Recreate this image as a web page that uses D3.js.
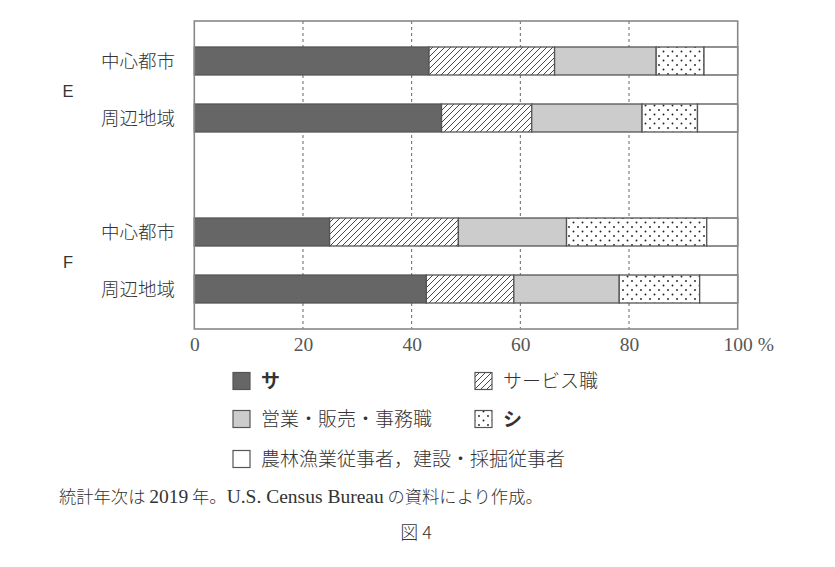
<!DOCTYPE html>
<html><head><meta charset="utf-8">
<script src="https://cdn.jsdelivr.net/npm/d3@7"></script>
<style>
body{margin:0;background:#fff;}
svg{display:block;}
</style></head>
<body>
<svg id="chart" width="835" height="567"></svg>
<script>
// ---- data ----
const groups = ["E", "E", "F", "F"];
const categories = ["中心都市", "周辺地域", "中心都市", "周辺地域"];
const seriesNames = ["サ", "サービス職", "営業・販売・事務職", "シ", "農林漁業従事者，建設・採掘従事者"];
const seriesSa = [43.2, 45.5, 24.9, 42.7];
const seriesService = [23.1, 16.6, 23.7, 16.1];
const seriesSales = [18.7, 20.3, 19.9, 19.4];
const seriesShi = [8.8, 10.2, 25.8, 14.8];
const seriesAgri = [6.2, 7.4, 5.7, 7.0];
const xTicks = [0, 20, 40, 60, 80, 100];
const footnote = "統計年次は 2019 年。U.S. Census Bureau の資料により作成。";
const figLabel = "図 4";

const svg = d3.select("#chart");
const defs = svg.append("defs");

// patterns
const hatch = defs.append("pattern").attr("id", "hatch")
  .attr("patternUnits", "userSpaceOnUse").attr("width", 6).attr("height", 6);
hatch.append("rect").attr("width", 6).attr("height", 6).attr("fill", "#fff");
hatch.append("path").attr("d", "M-1,1 l2,-2 M0,6 l6,-6 M5,7 l2,-2")
  .attr("stroke", "#333").attr("stroke-width", 0.9);

const dots = defs.append("pattern").attr("id", "dots")
  .attr("patternUnits", "userSpaceOnUse").attr("width", 9).attr("height", 9);
dots.append("rect").attr("width", 9).attr("height", 9).attr("fill", "#fff");
dots.append("circle").attr("cx", 2).attr("cy", 2).attr("r", 0.95).attr("fill", "#222");
dots.append("circle").attr("cx", 6.5).attr("cy", 6.5).attr("r", 0.95).attr("fill", "#222");

const fills = ["#666666", "url(#hatch)", "#cccccc", "url(#dots)", "#ffffff"];

const rowKeys = ["E|中心都市", "E|周辺地域", "gap", "F|中心都市", "F|周辺地域"];
const x = d3.scaleLinear().domain([0, 100]).range([194.3, 737.7]);
const y = d3.scaleBand().domain(rowKeys).range([21, 329]).paddingInner(0.509).paddingOuter(0.456);

const rows = categories.map((c, i) => ({
  key: groups[i] + "|" + c, group: groups[i], cat: c,
  vals: [seriesSa[i], seriesService[i], seriesSales[i], seriesShi[i], seriesAgri[i]]
}));

// gridlines
svg.append("g").selectAll("line").data(xTicks.filter(t => t > 0 && t < 100)).join("line")
  .attr("x1", d => x(d)).attr("x2", d => x(d)).attr("y1", 21).attr("y2", 329)
  .attr("stroke", "#555").attr("stroke-width", 0.9).attr("stroke-dasharray", "3,3");

// bars
rows.forEach(r => {
  let cum = 0;
  const segs = r.vals.map((v, j) => { const s = { x0: cum, x1: cum + v, j }; cum += v; return s; });
  segs[segs.length - 1].x1 = 100;
  svg.append("g").selectAll("rect").data(segs).join("rect")
    .attr("x", d => x(d.x0)).attr("width", d => x(d.x1) - x(d.x0))
    .attr("y", y(r.key)).attr("height", y.bandwidth())
    .attr("fill", d => fills[d.j]).attr("stroke", "#555").attr("stroke-width", 1.3);
});

// frame
svg.append("rect").attr("x", x(0)).attr("y", 21).attr("width", x(100) - x(0)).attr("height", 308)
  .attr("fill", "none").attr("stroke", "#888").attr("stroke-width", 1.6);

// axis tick labels
const axis = d3.axisBottom(x).tickValues(xTicks).tickSize(0).tickPadding(0);
const ag = svg.append("g").attr("transform", "translate(0,336)").call(axis);
ag.select(".domain").remove();
ag.selectAll("text").attr("font-family", "'Liberation Serif', serif").attr("font-size", 19.5)
  .attr("fill", "#555").attr("dy", "0.75em");
svg.append("text").attr("x", x(100) + 20).attr("y", 336).attr("dy", "0.75em")
  .attr("font-family", "'Liberation Serif', serif").attr("font-size", 19.5).attr("fill", "#555").text("%");

// category labels
svg.append("g").selectAll("text").data(rows).join("text")
  .attr("x", 175).attr("y", d => y(d.key) + y.bandwidth() / 2).attr("dy", "0.36em")
  .attr("text-anchor", "end").attr("font-family", "'Noto Sans CJK JP', sans-serif")
  .attr("font-size", 18.5).attr("font-weight", 300).attr("fill", "#333").text(d => d.cat);

// group labels
const groupNames = Array.from(new Set(groups));
svg.append("g").selectAll("text").data(groupNames).join("text")
  .attr("x", 68).attr("text-anchor", "middle")
  .attr("y", g => {
    const ks = rows.filter(r => r.group === g).map(r => y(r.key) + y.bandwidth() / 2);
    return d3.mean(ks) + 2;
  })
  .attr("dy", "0.36em").attr("font-family", "'Liberation Sans', sans-serif")
  .attr("font-size", 16.5).attr("fill", "#333").text(g => g);

// legend
const legendPos = [[233, 381], [475, 381], [233, 419], [475, 419], [233, 459]];
const lg = svg.append("g");
seriesNames.forEach((n, i) => {
  const [lx, ly] = legendPos[i];
  lg.append("rect").attr("x", lx).attr("y", ly - 8.5).attr("width", 17).attr("height", 17)
    .attr("fill", fills[i]).attr("stroke", "#555").attr("stroke-width", 1.2);
  lg.append("text").attr("x", lx + 28).attr("y", ly).attr("dy", "0.36em")
    .attr("font-family", "'Noto Sans CJK JP', sans-serif").attr("font-size", 19)
    .attr("font-weight", (n === "サ" || n === "シ") ? 700 : 300)
    .attr("fill", "#333").text(n);
});

// footnote
const fn = svg.append("text").attr("x", 59).attr("y", 497).attr("dy", "0.36em")
  .attr("fill", "#333");
const parts = footnote.split(/([A-Za-z0-9.]+(?: [A-Za-z0-9.]+)*)/);
parts.forEach(p => {
  if (!p) return;
  const latin = /^[A-Za-z0-9. ]+$/.test(p);
  fn.append("tspan")
    .attr("font-family", latin ? "'Liberation Serif', serif" : "'Noto Sans CJK JP', sans-serif")
    .attr("font-size", latin ? 19.5 : 17.3)
    .attr("font-weight", latin ? 400 : 300)
    .text(p);
});

svg.append("text").attr("x", 416).attr("y", 533).attr("dy", "0.36em").attr("text-anchor", "middle")
  .attr("font-family", "'Noto Sans CJK JP', sans-serif").attr("font-size", 18).attr("font-weight", 300)
  .attr("fill", "#333").text(figLabel);
</script>
</body></html>
